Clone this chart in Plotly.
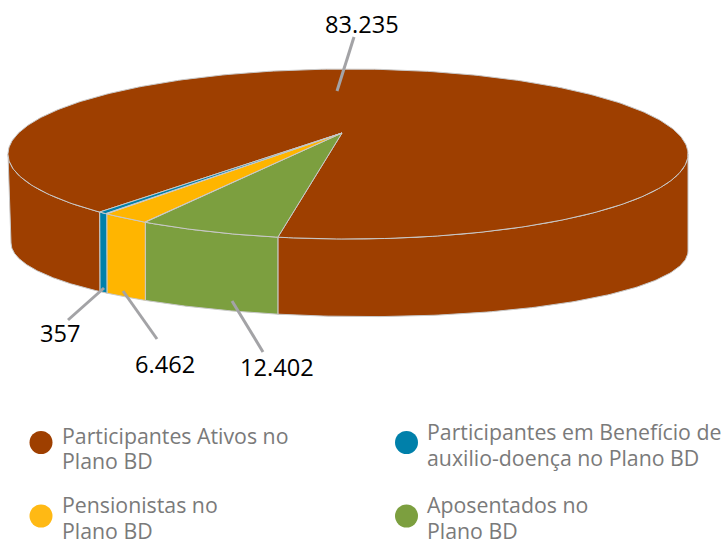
import numpy as np
import plotly.graph_objects as go

# ---- data ----
categories = [["Participantes Ativos no", "Plano BD"],
              ["Aposentados no", "Plano BD"],
              ["Pensionistas no", "Plano BD"],
              ["Participantes em Benefício de", "auxilio-doença no Plano BD"]]
values = [83235, 12402, 6462, 357]
colors = ["#9E3F00", "#7C9F3F", "#FFB500", "#0080AA"]

# ---- drawing geometry (pixel space of the 726x540 page) ----
CX, CY, RX, RY = 348, 154, 340, 85
APEX = (342, 133)
BOT_CY, BOT_RY, BOT_TILT = 247, 69.5, 4
START = 11.9          # degrees left of the front point where the first small slice starts
EDGE = "#C9C9C9"


def top(phi):
    p = np.radians(phi)
    return CX - RX * np.sin(p), CY + RY * np.cos(p)


def bottom(phi):
    p = np.radians(phi)
    s = np.sin(p)
    left_inset = 3 * np.where(s > 0, s, 0) ** 8
    return CX - RX * s + left_inset, BOT_CY + BOT_RY * np.cos(p) - BOT_TILT * s


def sweep(v):
    # the source picture compresses the small slices: monotone display scale
    return 1.7 + 23 * (v / values[1]) ** 1.847


spans = {}
a = START
for i in (1, 2, 3):
    spans[i] = (a, a + sweep(values[i]))
    a += sweep(values[i])
spans[0] = (a, START + 360)

fig = go.Figure()


def poly(xs, ys, color, line=EDGE, width=1):
    fig.add_trace(go.Scatter(x=list(xs), y=list(ys), mode="lines", fill="toself",
                             fillcolor=color, line=dict(color=line, width=width),
                             hoverinfo="skip", showlegend=False))


def wall(p0, p1, color):
    ph = np.linspace(p0, p1, 120)
    tx, ty = top(ph)
    bx, by = bottom(ph)
    poly(np.r_[tx, bx[::-1], tx[0]], np.r_[ty, by[::-1], ty[0]], color)


# side walls (only the front half of the disc is visible)
wall(-90, START, colors[0])
for i in (1, 2, 3):
    wall(spans[i][0], spans[i][1], colors[i])
wall(spans[3][1], 90, colors[0])

# top faces
for i in (0, 1, 2, 3):
    ph = np.linspace(spans[i][0], spans[i][1], 360 if i == 0 else 60)
    tx, ty = top(ph)
    poly(np.r_[APEX[0], tx, APEX[0]], np.r_[APEX[1], ty, APEX[1]], colors[i])

# value labels and leader lines
leaders = [[(337, 91), (354, 37)], [(232, 301), (263, 352)],
           [(123, 291), (157, 339)], [(104, 288), (68, 320)]]
label_pos = [(362, 24), (277, 367), (165, 364), (60, 333)]
for i, v in enumerate(values):
    (x0, y0), (x1, y1) = leaders[i]
    fig.add_trace(go.Scatter(x=[x0, x1], y=[y0, y1], mode="lines",
                             line=dict(color="#A3A3A6", width=3),
                             hoverinfo="skip", showlegend=False))
    fig.add_annotation(x=label_pos[i][0], y=label_pos[i][1], text=f"{v:,}".replace(",", "."),
                       showarrow=False, xanchor="center", yanchor="middle",
                       font=dict(family="Open Sans", size=23.6, color="#000000"))

# legend
legend_marker = [(41, 442.5), (406.5, 442.5), (41, 516), (406.5, 516)]
legend_order = [0, 3, 2, 1]
legend_text_x = [60, 425, 60, 425]
legend_text_y = [(435, 460), (431, 457), (504, 530), (504, 530)]
legend_colors = ["#9E3F00", "#0080AA", "#FFB914", "#7C9F3F"]
for k, i in enumerate(legend_order):
    fig.add_trace(go.Scatter(x=[legend_marker[k][0]], y=[legend_marker[k][1]], mode="markers",
                             marker=dict(color=legend_colors[k], size=23),
                             hoverinfo="skip", showlegend=False))
    for line_text, y in zip(categories[i], legend_text_y[k]):
        fig.add_annotation(x=legend_text_x[k], y=y, text=line_text,
                           showarrow=False, xanchor="left", yanchor="middle", align="left",
                           font=dict(family="Open Sans", size=21.3, color="#7A7A7A"))

fig.update_layout(width=726, height=540,
                  margin=dict(l=0, r=0, t=0, b=0),
                  paper_bgcolor="#FFFFFF", plot_bgcolor="#FFFFFF", showlegend=False)
fig.update_xaxes(visible=False, range=[0, 726], fixedrange=True)
fig.update_yaxes(visible=False, range=[540, 0], fixedrange=True)
fig.write_html("out.html", config={"displayModeBar": False},
               post_script="document.body.style.margin='0';document.body.style.overflow='hidden';")
